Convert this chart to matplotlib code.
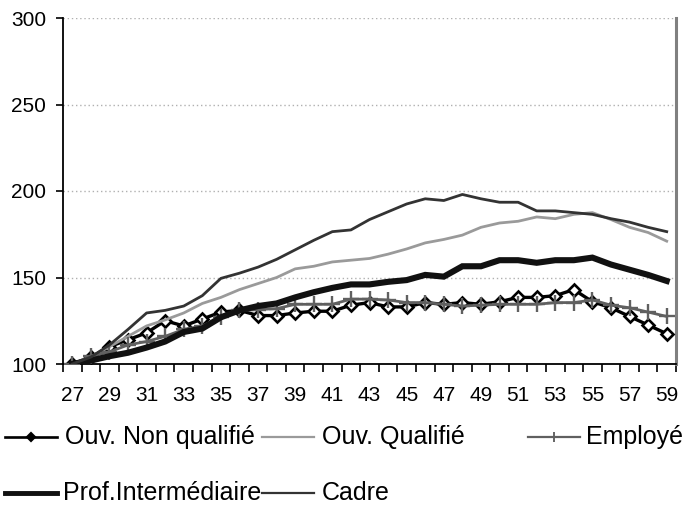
import matplotlib
matplotlib.use("Agg")
import matplotlib.pyplot as plt
from matplotlib.lines import Line2D

plt.rcParams['font.family'] = ['Liberation Sans', 'DejaVu Sans']

ages = list(range(27, 60))
tick_ages = list(range(27, 60, 2))
y_ticks = [100, 150, 200, 250, 300]

ouv_non_qualifie = [100, 104, 110, 114, 118, 125, 122, 126, 130, 131, 128, 128, 129.5, 130.5,
                    130.5, 134, 135.5, 133, 133, 135.5, 134.5, 135.5, 134.5, 136, 138.5, 138.5,
                    139.5, 143, 136, 132.5, 127.5, 122.5, 117.5]
ouv_qualifie = [100, 104, 110, 116, 122, 125.5, 129.5, 135, 138.5, 143, 146.5, 150, 155, 156.5,
                159, 160, 161, 163.5, 166.5, 170, 172, 174.5, 179, 181.5, 182.5, 185, 184,
                186.5, 187.5, 183.5, 179, 176, 171]
employe = [100, 104.5, 107, 111, 113, 116, 120, 122, 127, 131, 131.5, 132, 134.5, 134.5,
           134.5, 137.5, 137.5, 137, 135.5, 135.5, 134.5, 133.5, 134, 134.5, 134.5, 134.5,
           135.5, 135.5, 137, 134, 132.5, 130, 127.5]
prof_intermediaire = [100, 102, 104.5, 106.5, 109.5, 113, 118.5, 120.5, 127, 131, 133.5, 135,
                      138.5, 141.5, 144, 146, 146, 147.5, 148.5, 151.5, 150.5, 156.5, 156.5,
                      160, 160, 158.5, 160, 160, 161.5, 157.5, 154.5, 151.5, 148]
cadre = [100, 104, 111, 120, 129.5, 131, 133.5, 139.5, 149.5, 152.5, 156, 160.5, 166, 171.5,
         176.5, 177.5, 183.5, 188, 192.5, 195.5, 194.5, 198, 195.5, 193.5, 193.5, 188.5,
         188.5, 187.5, 186.5, 184, 182, 179, 176.5]

W, H = 683, 527
fig = plt.figure(figsize=(W / 100, H / 100), dpi=100)
ax = fig.add_axes([63 / W, (H - 364) / H, (676 - 63) / W, (364 - 18) / H])

styles = {
    'Ouv. Non qualifié': dict(color='black', lw=2.4, marker='D', ms=6.5, mfc='white',
                              mec='black', mew=1.9),
    'Ouv. Qualifié': dict(color='#9a9a9a', lw=2.0),
    'Employé': dict(color='#606060', lw=2.0, marker='+', ms=12, mew=1.7),
    'Prof.Intermédiaire': dict(color='#111111', lw=4.4, solid_joinstyle='miter'),
    'Cadre': dict(color='#333333', lw=2.0),
}
series = {
    'Ouv. Non qualifié': ouv_non_qualifie,
    'Ouv. Qualifié': ouv_qualifie,
    'Employé': employe,
    'Prof.Intermédiaire': prof_intermediaire,
    'Cadre': cadre,
}
for name, vals in series.items():
    ax.plot(ages, vals, **styles[name], zorder=3)

ax.set_xlim(26.5, 59.5)
ax.set_ylim(100, 300)

# dotted horizontal gridlines
for v in y_ticks[1:]:
    ax.axhline(v, color='#b0b0b0', lw=1.0, ls=(0, (1, 2)), zorder=1)

ax.set_yticks(y_ticks)
ax.set_yticklabels([str(v) for v in y_ticks])
ax.set_xticks(tick_ages)
ax.set_xticklabels([str(a) for a in tick_ages])
ax.set_xticks([a - 0.5 for a in ages] + [59.5], minor=True)
ax.tick_params(axis='x', which='major', length=0, pad=16, labelsize=15)
ax.tick_params(axis='x', which='minor', length=6, width=1.2, direction='out', color='black')
ax.tick_params(axis='y', which='major', length=5, width=1.2, pad=7, labelsize=15)

for side in ('left', 'bottom'):
    ax.spines[side].set_color('black')
    ax.spines[side].set_linewidth(1.3)
ax.spines['top'].set_visible(False)
ax.spines['right'].set_color('#808080')
ax.spines['right'].set_linewidth(2.2)

# legend laid out in two rows below the plot
legend_entries = [
    ('Ouv. Non qualifié', 5, 65, 437),
    ('Ouv. Qualifié', 262, 322, 437),
    ('Employé', 528, 586, 437),
    ('Prof.Intermédiaire', 5, 63, 493),
    ('Cadre', 262, 322, 493),
]
for name, x0, xt, y0 in legend_entries:
    st = dict(styles[name])
    yf = (H - y0) / H
    x0f, x1f = x0 / W, (x0 + 52) / W
    marker = st.get('marker')
    color = st['color']
    fig.add_artist(Line2D([x0f, x1f], [yf, yf], transform=fig.transFigure,
                          color=color, lw=st['lw'] * 0.8))
    if marker is not None:
        fig.add_artist(Line2D([(x0f + x1f) / 2], [yf], transform=fig.transFigure,
                              color=color, marker=marker, ms=st['ms'] * 0.6,
                              mfc=color, mec=color, mew=st['mew'] * 0.8))
    fig.text(xt / W, yf, name, fontsize=18, va='center', ha='left')

fig.savefig('out.png', dpi=100)
